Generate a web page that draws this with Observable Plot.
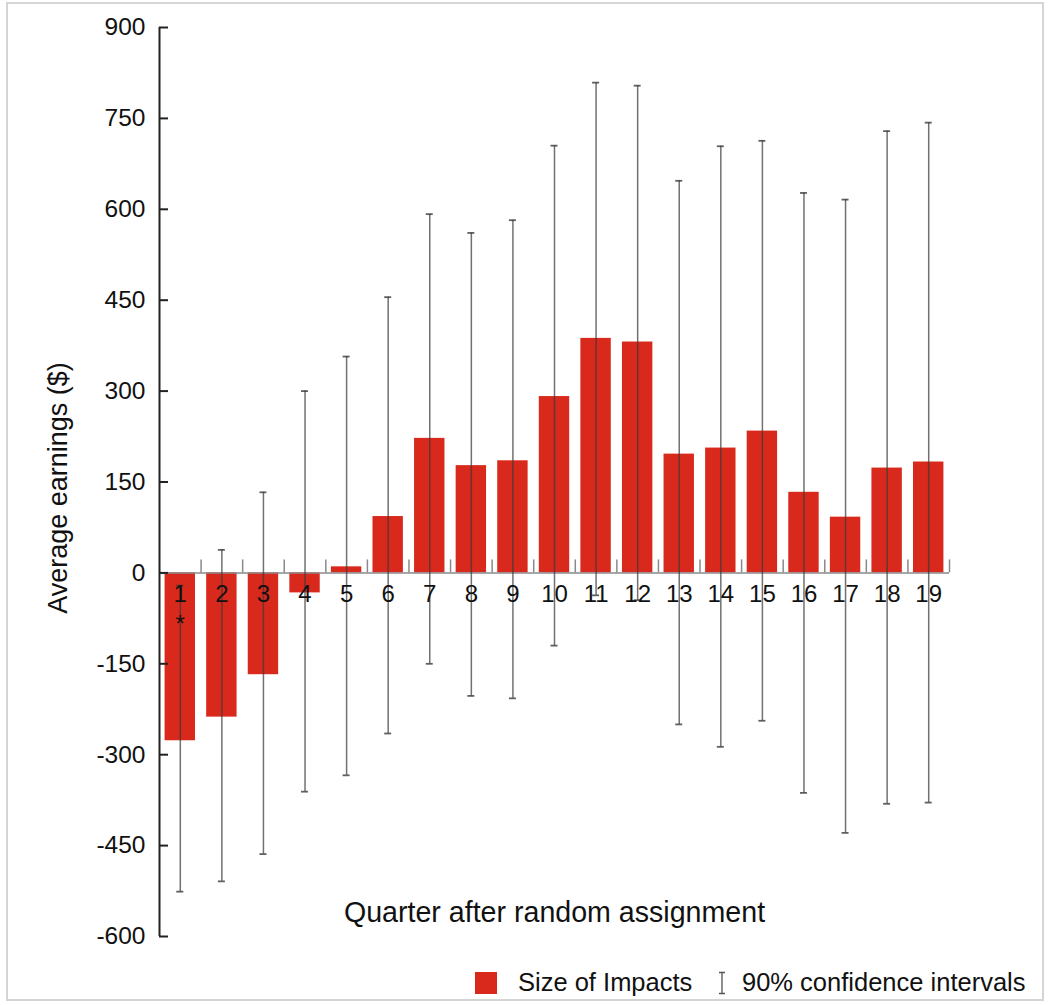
<!DOCTYPE html>
<html>
<head>
<meta charset="utf-8">
<script src="https://cdn.jsdelivr.net/npm/d3@7"></script>
<script src="https://cdn.jsdelivr.net/npm/@observablehq/plot@0.6"></script>
<style>
  html, body { margin: 0; padding: 0; background: #fff; }
  body { width: 1053px; height: 1005px; position: relative; font-family: "Liberation Sans", Arial, sans-serif; overflow: hidden; }
  #frame { position: absolute; left: 6px; top: 2px; width: 1038px; height: 999px; border: 2px solid #d4d6d6; box-sizing: border-box; pointer-events: none; }
  #chart { position: absolute; left: 0; top: 0; }
  #legend { position: absolute; left: 0; top: 960px; width: 1053px; height: 45px; font-size: 25.5px; color: #111; }
  #legend .sw { position: absolute; left: 475px; top: 12px; width: 22px; height: 22px; background: #d9291c; }
  #legend .t1 { position: absolute; left: 518px; top: 8px; line-height: 29px; }
  #legend .ci { position: absolute; left: 717px; top: 11px; }
  #legend .t2 { position: absolute; left: 742px; top: 8px; line-height: 29px; }
</style>
</head>
<body>
<div id="chart"></div>
<div id="legend">
  <div class="sw"></div>
  <div class="t1">Size of Impacts</div>
  <svg class="ci" width="10" height="24"><path d="M2,1.5H8M5,1.5V22.5M2,22.5H8" stroke="#555" stroke-width="1.3" fill="none"/></svg>
  <div class="t2">90% confidence intervals</div>
</div>
<div id="frame"></div>
<script>
const quarters = [1, 2, 3, 4, 5, 6, 7, 8, 9, 10, 11, 12, 13, 14, 15, 16, 17, 18, 19];
const impact   = [-277, -238, -168, -33, 10, 93, 222, 177, 185, 291, 387, 381, 196, 206, 234, 133, 92, 173, 183];
const ciLow    = [-526, -509, -464, -361, -334, -265, -150, -203, -207, -120, -37, -45, -250, -287, -244, -363, -429, -381, -379];
const ciHigh   = [-21, 38, 133, 300, 357, 455, 592, 561, 582, 705, 809, 804, 647, 704, 713, 627, 616, 729, 743];
const sigMark  = ["*", "", "", "", "", "", "", "", "", "", "", "", "", "", "", "", "", "", ""];
const yTicks   = [-600, -450, -300, -150, 0, 150, 300, 450, 600, 750, 900];
const yTitle   = "Average earnings ($)";
const xTitle   = "Quarter after random assignment";

const data = quarters.map((q, i) => ({q, v: impact[i], lo: ciLow[i], hi: ciHigh[i], sig: sigMark[i]}));
const bounds = quarters.map(q => q + 0.5);

const chart = Plot.plot({
  width: 1053,
  height: 960,
  marginLeft: 159,
  marginRight: 104,
  marginTop: 27,
  marginBottom: 24,
  style: {fontFamily: '"Liberation Sans", Arial, sans-serif', color: "#111", background: "transparent"},
  x: {type: "linear", domain: [0.5, 19.5], axis: null},
  y: {domain: [-600, 900], axis: null},
  marks: [
    Plot.rectY(data, {x1: "q", x2: "q", y: "v", insetLeft: -15.2, insetRight: -15.2, fill: "#d9291c"}),
    Plot.ruleY([0], {stroke: "#8a8a8a", strokeWidth: 1.5}),
    Plot.ruleX(bounds, {x: d => d, y1: 0, y2: 0, insetTop: -13, stroke: "#8a8a8a", strokeWidth: 1.5}),
    Plot.ruleX(data, {x: "q", y1: "lo", y2: "hi", stroke: "#3a3a3a", strokeOpacity: 0.72, strokeWidth: 1.5}),
    Plot.ruleY(data, {y: "lo", x1: "q", x2: "q", insetLeft: -3.5, insetRight: -3.5, stroke: "#3a3a3a", strokeOpacity: 0.8, strokeWidth: 1.8}),
    Plot.ruleY(data, {y: "hi", x1: "q", x2: "q", insetLeft: -3.5, insetRight: -3.5, stroke: "#3a3a3a", strokeOpacity: 0.8, strokeWidth: 1.8}),
    Plot.ruleX([0.5], {stroke: "#222", strokeWidth: 2}),
    Plot.ruleY(yTicks, {y: d => d, x1: 0.5, x2: 0.5, insetRight: -9, stroke: "#222", strokeWidth: 2}),
    Plot.axisY({ticks: yTicks, tickSize: 0, tickPadding: 14, fontSize: 24.5, label: null, tickFormat: d => String(d)}),
    Plot.text(data, {x: "q", y: 0, text: d => String(d.q), dy: 21, fontSize: 24, fill: "#111"}),
    Plot.text(data, {x: "q", y: 0, text: "sig", dy: 51, fontSize: 24, fill: "#111"}),
    Plot.text([xTitle], {text: d => d, frameAnchor: "bottom", lineAnchor: "middle", textAnchor: "middle", dy: -24, fontSize: 28.6, fill: "#111"}),
    Plot.text([yTitle], {text: d => d, frameAnchor: "left", lineAnchor: "middle", textAnchor: "middle", rotate: -90, dx: -101, dy: 6, fontSize: 27, fill: "#111"})
  ]
});
document.getElementById("chart").appendChild(chart);
</script>
</body>
</html>
